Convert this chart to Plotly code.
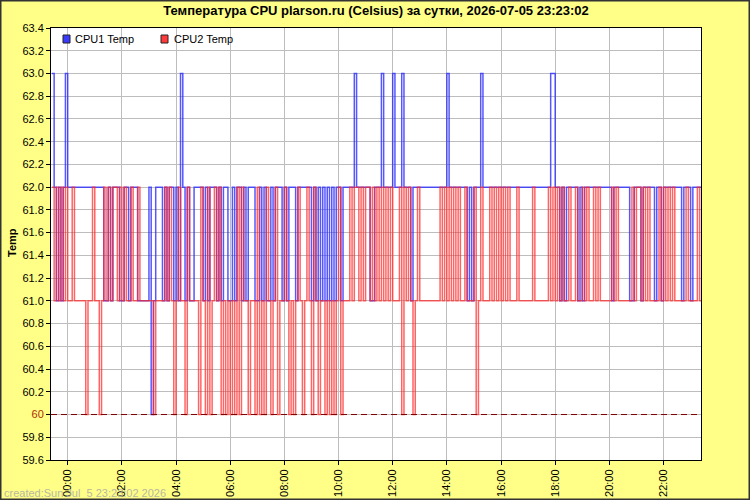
import plotly.graph_objects as go
from datetime import datetime, timedelta

# ---- data: 5-minute samples, first sample 2026-07-04 23:25 (one row = 2 hours)
cpu1_temp = [
    63,62,61,62,61,62,63,62,62,62,62,62,62,62,62,62,62,62,62,62,62,62,62,61,
    61,62,61,62,62,62,61,61,62,62,61,62,62,62,61,61,61,61,61,62,60,61,62,62,
    62,61,62,61,62,62,61,62,61,63,62,61,62,61,61,62,62,62,62,61,62,61,62,62,
    62,61,62,61,62,62,61,61,62,61,62,62,61,62,61,62,62,62,61,61,62,61,62,61,
    61,62,61,62,62,62,61,62,61,62,62,62,61,62,62,62,62,62,62,61,62,61,62,61,
    62,61,62,61,62,61,62,62,61,62,62,62,62,62,63,62,62,62,62,62,62,61,61,62,
    62,62,63,62,62,62,62,63,62,62,62,63,62,62,62,61,62,62,62,62,62,62,62,62,
    62,62,62,62,62,62,62,63,62,62,62,62,62,62,62,62,61,62,61,62,62,62,63,62,
    62,62,62,62,62,62,62,62,62,62,62,62,62,62,62,62,62,62,62,62,62,62,62,62,
    62,62,62,62,62,63,63,62,62,61,62,61,62,62,62,62,62,61,62,61,62,62,62,62,
    62,62,62,62,62,62,62,62,61,62,62,62,62,62,62,62,61,61,62,62,62,61,62,62,
    62,62,62,61,62,62,61,62,62,62,62,62,62,62,62,61,62,62,62,61,62,62,62,62,
]
cpu2_temp = [
    62,61,62,61,62,61,62,61,61,62,61,61,61,61,61,60,61,61,62,61,61,60,61,62,
    61,62,61,62,62,61,62,61,62,61,61,62,61,61,62,61,61,61,61,61,61,60,61,61,
    61,61,62,61,62,61,60,61,62,61,61,60,62,61,61,61,61,60,62,61,60,62,60,61,
    62,61,62,60,61,60,61,60,61,60,62,60,62,61,61,60,61,61,60,62,60,61,60,62,
    61,60,61,62,60,61,61,62,61,60,61,60,61,62,61,60,61,62,61,60,62,61,60,61,
    61,60,61,60,61,60,61,62,60,61,61,61,62,61,62,62,61,62,61,62,62,61,62,61,
    62,61,62,61,62,61,62,61,61,61,62,60,62,61,62,61,60,61,62,61,61,61,61,61,
    61,61,61,61,62,61,62,61,62,61,62,61,62,61,61,62,61,61,61,62,60,61,62,61,
    61,61,62,61,62,61,62,61,62,61,62,61,61,61,62,61,61,61,61,61,61,62,61,61,
    61,61,61,61,62,61,62,61,62,61,62,61,61,62,61,61,62,61,61,62,61,62,61,61,
    62,61,62,61,61,61,61,61,62,61,62,61,61,61,61,61,61,62,61,62,62,61,62,61,
    62,61,61,61,61,62,61,62,61,62,61,62,61,61,61,61,61,62,61,61,61,61,62,61,
]
series_names = ["CPU1 Temp", "CPU2 Temp"]
first_sample = datetime(2026, 7, 4, 23, 25, 0)
sample_step_min = 5
range_start = datetime(2026, 7, 4, 23, 23, 2)
range_end = datetime(2026, 7, 5, 23, 23, 2)
y_ticks = [59.6, 59.8, 60.0, 60.2, 60.4, 60.6, 60.8, 61.0, 61.2, 61.4, 61.6,
           61.8, 62.0, 62.2, 62.4, 62.6, 62.8, 63.0, 63.2, 63.4]
limit_value = 60
title_text = "Температура CPU plarson.ru (Celsius) за сутки, 2026-07-05 23:23:02"
created_text = "created:Sun Jul\u00a0 5 23:23:02 2026"

# ---- build
times = [first_sample + timedelta(minutes=sample_step_min * i) for i in range(len(cpu1_temp))]
x_all = times + [range_end]

FONT = "Liberation Sans, Arial, sans-serif"
line_colors = ["rgba(40,40,255,0.78)", "rgba(255,40,40,0.72)"]
legend_colors = ["#3a3aff", "#ff3a3a"]

ML, MR, MT, MB = 51, 49, 28, 40
PW, PH = 750 - ML - MR, 500 - MT - MB


def px_x(px):
    return (px - ML) / PW


def px_y(py):
    return (MT + PH - py) / PH


fig = go.Figure()
for name, vals, col in zip(series_names, [cpu1_temp, cpu2_temp], line_colors):
    fig.add_trace(go.Scatter(
        x=x_all, y=vals + [vals[-1]], mode="lines", line=dict(color=col, width=1.5, shape="hv"),
        name=name, showlegend=False, hoverinfo="skip"))

tick_text = []
for v in y_ticks:
    if abs(v - limit_value) < 1e-9:
        tick_text.append("<span style='color:#b03000'>60</span>")
    else:
        tick_text.append(f"{v:.1f}")

fig.update_layout(
    width=750, height=500,
    margin=dict(l=ML, r=MR, t=MT, b=MB, autoexpand=False),
    paper_bgcolor="#ffff88", plot_bgcolor="#ffffff",
    font=dict(family=FONT, size=11, color="#000"),
    title=dict(text="<b>" + title_text + "</b>", x=0.5, xanchor="center", xref="paper",
               y=1 - 10 / 500, yanchor="middle", yref="container",
               font=dict(family=FONT, size=13, color="#000")),
    showlegend=False,
    xaxis=dict(type="date", range=[range_start, range_end],
               tick0=datetime(2026, 7, 5, 0, 0), dtick=2 * 3600 * 1000, tickformat="%H:%M",
               tickangle=-90, showgrid=True, gridcolor="#bdbdbd", gridwidth=1,
               showline=True, linecolor="#000", linewidth=1, mirror=True,
               ticks="outside", ticklen=4, tickcolor="#000", zeroline=False,
               automargin=False),
    yaxis=dict(range=[59.6, 63.4], tickvals=y_ticks, ticktext=tick_text,
               showgrid=True, gridcolor="#bdbdbd", gridwidth=1,
               showline=True, linecolor="#000", linewidth=1, mirror=True,
               ticks="outside", ticklen=4, tickcolor="#000", zeroline=False,
               automargin=False),
)

# legend (square swatch + label), drawn as in the source chart
legend_pos = [(63, 73), (161, 172)]
for (sx, tx), name, col in zip(legend_pos, series_names, legend_colors):
    fig.add_shape(type="rect", xref="paper", yref="paper",
                  x0=px_x(sx), x1=px_x(sx + 7), y0=px_y(43), y1=px_y(35),
                  fillcolor=col, line=dict(color="#222", width=1), layer="above")
    fig.add_annotation(text=name, xref="paper", yref="paper", x=px_x(tx), y=px_y(39.5),
                       xanchor="left", yanchor="middle", showarrow=False,
                       font=dict(family=FONT, size=11, color="#000"))

# limit line at 60
fig.add_shape(type="line", xref="paper", x0=0, x1=1, yref="y", y0=limit_value, y1=limit_value,
              line=dict(color="#800000", width=1, dash="6px,4px"), layer="above")
# outer frame of picture
fig.add_shape(type="rect", xref="paper", yref="paper",
              x0=-ML / PW, x1=1 + MR / PW, y0=-MB / PH, y1=1 + MT / PH,
              line=dict(color="#333", width=3), layer="above")

fig.add_annotation(text="<b>Temp</b>", textangle=-90, xref="paper", yref="paper",
                   x=px_x(12), y=px_y(243), xanchor="center", yanchor="middle",
                   showarrow=False, font=dict(family=FONT, size=11, color="#000"))
fig.add_annotation(text=created_text, xref="paper", yref="paper",
                   x=px_x(2), y=px_y(493), xanchor="left", yanchor="middle",
                   showarrow=False, font=dict(family=FONT, size=11, color="#b8b8a0"))

fig.write_html("out.html")
